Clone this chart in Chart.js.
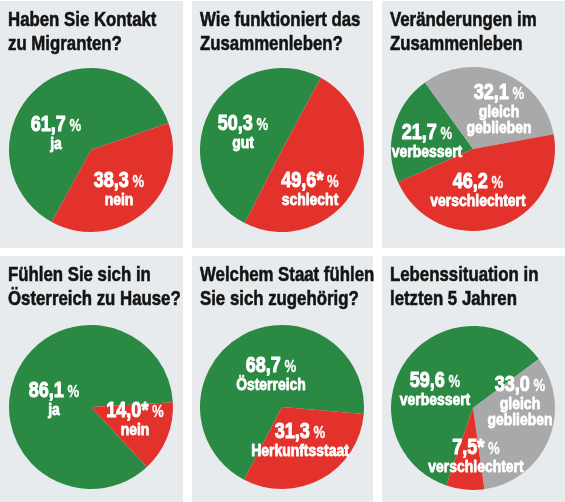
<!DOCTYPE html>
<html>
<head>
<meta charset="utf-8">
<script src="https://cdn.jsdelivr.net/npm/chart.js@4.4.0/dist/chart.umd.min.js"></script>
<style>
  body { margin: 0; background: #fff; width: 565px; height: 502px; position: relative; overflow: hidden; }
  .panel { position: absolute; background: #e8ebee; }
  .panel h2 {
    position: absolute; left: 8px; top: 6px; margin: 0; z-index: 2;
    font-family: "Liberation Sans", Arial, sans-serif; white-space: nowrap;
    font-weight: bold; font-size: 21px; line-height: 24px; color: #141414;
    -webkit-text-stroke: 0.6px #141414;
    transform: scaleX(0.8); transform-origin: left top;
  }
  .panel canvas { position: absolute; left: 0; top: 0; }
</style>
</head>
<body>
<script>
// Titel der sechs Grafiken
const titles = [
  'Haben Sie Kontakt<br>zu Migranten?',
  'Wie funktioniert das<br>Zusammenleben?',
  'Veränderungen im<br>Zusammenleben',
  'Fühlen Sie sich in<br>Österreich zu Hause?',
  'Welchem Staat fühlen<br>Sie sich zugehörig?',
  'Lebenssituation in<br>letzten 5 Jahren'
];

// Daten je Grafik
const kontaktLabels = ['ja', 'nein'];
const kontaktValues = [61.7, 38.3];
const kontaktMarks = ['', ''];

const funktioniertLabels = ['gut', 'schlecht'];
const funktioniertValues = [50.3, 49.6];
const funktioniertMarks = ['', '*'];

const veraenderungLabels = ['verbessert', 'gleich\ngeblieben', 'verschlechtert'];
const veraenderungValues = [21.7, 32.1, 46.2];
const veraenderungMarks = ['', '', ''];

const zuHauseLabels = ['ja', 'nein'];
const zuHauseValues = [86.1, 14.0];
const zuHauseMarks = ['', '*'];

const staatLabels = ['Österreich', 'Herkunftsstaat'];
const staatValues = [68.7, 31.3];
const staatMarks = ['', ''];

const lebenLabels = ['verbessert', 'gleich\ngeblieben', 'verschlechtert'];
const lebenValues = [59.6, 33.0, 7.5];
const lebenMarks = ['', '', '*'];

const GREEN = '#2a8a44';
const RED = '#e3312b';
const GRAY = '#a9a9a9';
const FONT = '"Liberation Sans", Arial, sans-serif';
const NARROW = 0.82;

// Anordnung der Felder und Textpositionen (relativ zum Kreismittelpunkt)
const panels = [
  { x: 0,   y: 1,   w: 183, h: 247, cx: 91, cy: 149, rot: 208.6,
    labels: kontaktLabels, values: kontaktValues, marks: kontaktMarks, colors: [GREEN, RED],
    text: [[-35, -27], [28, 29]] },
  { x: 192, y: 1,   w: 181, h: 247, cx: 90, cy: 149, rot: 207,
    labels: funktioniertLabels, values: funktioniertValues, marks: funktioniertMarks, colors: [GREEN, RED],
    text: [[-39, -28], [28, 29]] },
  { x: 382, y: 1,   w: 183, h: 247, cx: 91, cy: 148, rot: 246,
    labels: veraenderungLabels, values: veraenderungValues, marks: veraenderungMarks, colors: [GREEN, GRAY, RED],
    text: [[-46, -18], [26, -58], [5, 31]] },
  { x: 0,   y: 256, w: 183, h: 246, cx: 91, cy: 151, rot: 137,
    labels: zuHauseLabels, values: zuHauseValues, marks: zuHauseMarks, colors: [GREEN, RED],
    text: [[-37, -18], [44, 2]] },
  { x: 192, y: 256, w: 181, h: 246, cx: 90, cy: 151, rot: 207.5,
    labels: staatLabels, values: staatValues, marks: staatMarks, colors: [GREEN, RED],
    text: [[-11, -43], [18, 23]] },
  { x: 382, y: 256, w: 183, h: 246, cx: 91, cy: 152, rot: 199,
    labels: lebenLabels, values: lebenValues, marks: lebenMarks, colors: [GREEN, GRAY, RED],
    text: [[-38, -29], [47, -25], [3, 38]] }
];
const RADIUS = 82;

function formatValue(v, mark) {
  return v.toFixed(1).replace('.', ',') + mark;
}

function boldText(ctx, str, x, y, stroke) {
  ctx.lineWidth = stroke;
  ctx.strokeText(str, x, y);
  ctx.fillText(str, x, y);
}

// Beschriftung in den Segmenten zeichnen (schmal gestaucht)
const sliceLabels = {
  id: 'sliceLabels',
  afterDatasetsDraw(chart, args, opts) {
    const ctx = chart.ctx;
    const arcs = chart.getDatasetMeta(0).data;
    const ds = chart.data.datasets[0];
    arcs.forEach((arc, i) => {
      const x = arc.x + opts.text[i][0];
      const y = arc.y + opts.text[i][1];
      const num = formatValue(ds.data[i], opts.marks[i]);
      ctx.save();
      ctx.translate(x, y);
      ctx.scale(NARROW, 1);
      ctx.fillStyle = '#fff';
      ctx.strokeStyle = '#fff';
      ctx.lineJoin = 'round';
      ctx.textBaseline = 'alphabetic';
      ctx.font = 'bold 22px ' + FONT;
      const wNum = ctx.measureText(num).width;
      ctx.font = 'bold 16px ' + FONT;
      const wPct = ctx.measureText(' %').width;
      const left = -(wNum + wPct) / 2;
      ctx.textAlign = 'left';
      ctx.font = 'bold 22px ' + FONT;
      boldText(ctx, num, left, 8, 1);
      ctx.font = 'bold 16px ' + FONT;
      boldText(ctx, ' %', left + wNum, 8, 0.3);
      ctx.textAlign = 'center';
      ctx.font = 'bold 17px ' + FONT;
      chart.data.labels[i].split('\n').forEach((line, k) => {
        boldText(ctx, line, 0, 8 + 18 + k * 16, 0.8);
      });
      ctx.restore();
    });
  }
};

panels.forEach((p, idx) => {
  const div = document.createElement('div');
  div.className = 'panel';
  div.style.left = p.x + 'px';
  div.style.top = p.y + 'px';
  div.style.width = p.w + 'px';
  div.style.height = p.h + 'px';
  const h = document.createElement('h2');
  h.innerHTML = titles[idx];
  div.appendChild(h);
  const canvas = document.createElement('canvas');
  canvas.width = p.w;
  canvas.height = p.h;
  canvas.style.width = p.w + 'px';
  canvas.style.height = p.h + 'px';
  div.appendChild(canvas);
  document.body.appendChild(div);

  new Chart(canvas.getContext('2d'), {
    type: 'pie',
    data: {
      labels: p.labels,
      datasets: [{
        data: p.values,
        backgroundColor: p.colors,
        borderWidth: 0
      }]
    },
    options: {
      responsive: false,
      animation: false,
      rotation: p.rot,
      layout: {
        padding: {
          left: p.cx - RADIUS,
          right: p.w - p.cx - RADIUS,
          top: p.cy - RADIUS,
          bottom: p.h - p.cy - RADIUS
        }
      },
      plugins: {
        legend: { display: false },
        tooltip: { enabled: false },
        sliceLabels: { text: p.text, marks: p.marks }
      }
    },
    plugins: [sliceLabels]
  });
});
</script>
</body>
</html>
